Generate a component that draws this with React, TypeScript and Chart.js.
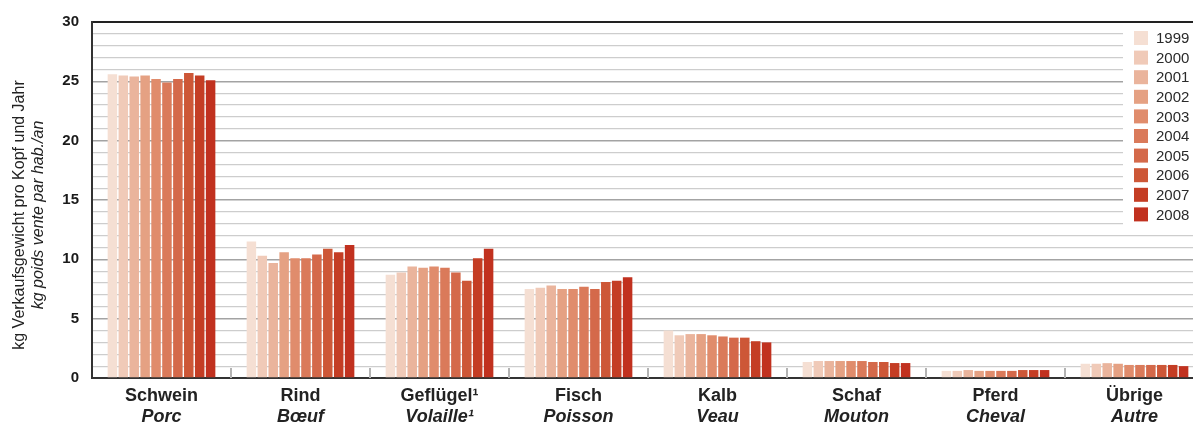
import React, { useEffect, useRef } from "react";
import { Chart, registerables } from "chart.js";

Chart.register(...registerables);

const categoriesDe = ["Schwein", "Rind", "Geflügel¹", "Fisch", "Kalb", "Schaf", "Pferd", "Übrige"];
const categoriesFr = ["Porc", "Bœuf", "Volaille¹", "Poisson", "Veau", "Mouton", "Cheval", "Autre"];
const years = ["1999", "2000", "2001", "2002", "2003", "2004", "2005", "2006", "2007", "2008"];
const yearColors = ["#f5dfd3", "#f0cab8", "#eab49c", "#e5a183", "#e08c6c", "#da7a5a", "#d4694a", "#cd5737", "#c43d24", "#c1311f"];

// values per category, 1999..2008 (kg per head and year)
const schwein = [25.6, 25.5, 25.4, 25.5, 25.2, 24.9, 25.2, 25.7, 25.5, 25.1];
const rind = [11.5, 10.3, 9.7, 10.6, 10.1, 10.1, 10.4, 10.9, 10.6, 11.2];
const gefluegel = [8.7, 8.9, 9.4, 9.3, 9.4, 9.3, 8.9, 8.2, 10.1, 10.9];
const fisch = [7.5, 7.6, 7.8, 7.5, 7.5, 7.7, 7.5, 8.1, 8.2, 8.5];
const kalb = [4.0, 3.6, 3.7, 3.7, 3.6, 3.5, 3.4, 3.4, 3.1, 3.0];
const schaf = [1.35, 1.43, 1.43, 1.43, 1.43, 1.43, 1.35, 1.35, 1.26, 1.26];
const pferd = [0.6, 0.6, 0.67, 0.6, 0.6, 0.6, 0.6, 0.67, 0.67, 0.67];
const uebrige = [1.2, 1.2, 1.25, 1.2, 1.1, 1.1, 1.1, 1.1, 1.1, 1.0];

const yTickLabels = [0, 5, 10, 15, 20, 25, 30];
const yTitleDe = "kg Verkaufsgewicht pro Kopf und Jahr";
const yTitleFr = "kg poids vente par hab./an";

const FONT = "'Liberation Sans', Arial, Helvetica, sans-serif";

const byCategory = [schwein, rind, gefluegel, fisch, kalb, schaf, pferd, uebrige];

const decorPlugin = {
  id: "decor",
  beforeDatasetsDraw(chart: any) {
    const { ctx, chartArea, scales } = chart;
    const x = scales.x;
    ctx.save();
    // category separator ticks
    ctx.strokeStyle = "#b3b3b3";
    ctx.lineWidth = 2;
    for (let i = 0; i < categoriesDe.length - 1; i++) {
      const bx = (x.getPixelForValue(i) + x.getPixelForValue(i + 1)) / 2;
      ctx.beginPath();
      ctx.moveTo(bx, chartArea.bottom - 10);
      ctx.lineTo(bx, chartArea.bottom);
      ctx.stroke();
    }
    // legend box
    const lx = 1123;
    ctx.fillStyle = "#ffffff";
    ctx.fillRect(lx, chartArea.top + 2, chart.width - lx, 229 - chartArea.top);
    ctx.font = `15px ${FONT}`;
    ctx.textBaseline = "middle";
    ctx.textAlign = "left";
    years.forEach((yr, i) => {
      const cy = 38 + i * 19.6;
      ctx.fillStyle = yearColors[i];
      ctx.fillRect(1134, cy - 7, 14, 14);
      ctx.fillStyle = "#2a2a2a";
      ctx.fillText(yr, 1156, cy + 1);
    });
    ctx.restore();
  },
  afterDraw(chart: any) {
    const { ctx, chartArea, scales } = chart;
    const x = scales.x;
    ctx.save();
    ctx.fillStyle = "#222222";
    ctx.textAlign = "center";
    ctx.textBaseline = "middle";
    categoriesDe.forEach((c, i) => {
      const px = x.getPixelForValue(i);
      ctx.font = `bold 18px ${FONT}`;
      ctx.fillText(c, px, chartArea.bottom + 18);
      ctx.font = `italic bold 18px ${FONT}`;
      ctx.fillText(categoriesFr[i], px, chartArea.bottom + 39);
    });
    // y title
    const cy = 215;
    ctx.translate(20, cy);
    ctx.rotate(-Math.PI / 2);
    ctx.fillStyle = "#222222";
    ctx.font = `16px ${FONT}`;
    ctx.fillText(yTitleDe, 0, 0);
    ctx.font = `italic 16px ${FONT}`;
    ctx.fillText(yTitleFr, 0, 19);
    ctx.restore();
  },
};

export default function App() {
  const ref = useRef<HTMLCanvasElement>(null);
  useEffect(() => {
    document.body.style.margin = "0";
    const canvas = ref.current!;
    const chart = new Chart(canvas, {
      type: "bar",
      data: {
        labels: categoriesDe,
        datasets: years.map((yr, yi) => ({
          label: yr,
          data: byCategory.map((arr) => arr[yi]),
          backgroundColor: yearColors[yi],
          borderWidth: 0,
          categoryPercentage: 0.785,
          barPercentage: 0.87,
        })),
      },
      options: {
        responsive: false,
        animation: false,
        devicePixelRatio: 1,
        layout: { padding: { top: 22, bottom: 46, left: 0, right: 0 } },
        plugins: { legend: { display: false }, tooltip: { enabled: false } },
        scales: {
          x: {
            type: "category",
            grid: { display: false },
            ticks: { display: false },
            border: { display: true, color: "#333333", width: 2 },
            afterFit: (s: any) => {
              s.height = 0;
            },
          },
          y: {
            min: 0,
            max: 30,
            ticks: {
              stepSize: 1,
              autoSkip: false,
              padding: 13,
              color: "#1a1a1a",
              font: { family: FONT, size: 15, weight: "bold" },
              callback: (v: any) => (yTickLabels.includes(Number(v)) ? String(v) : ""),
            },
            grid: {
              drawTicks: false,
              color: (c: any) => {
                const v = c.tick?.value;
                if (v === 30) return "#222222";
                if (v % 5 === 0) return "#a3a3a3";
                return "#cdcdcd";
              },
              lineWidth: (c: any) => {
                const v = c.tick?.value;
                if (v === 30) return 2;
                if (v % 5 === 0) return 1.6;
                return 1.2;
              },
            },
            border: { display: true, color: "#333333", width: 2 },
            afterFit: (s: any) => {
              s.width = 92;
            },
          },
        },
      },
      plugins: [decorPlugin],
    });
    return () => chart.destroy();
  }, []);
  return (
    <div style={{ width: 1193, height: 424, overflow: "hidden", position: "relative", background: "#fff" }}>
      <canvas ref={ref} width={1204} height={424} style={{ display: "block" }} />
    </div>
  );
}
